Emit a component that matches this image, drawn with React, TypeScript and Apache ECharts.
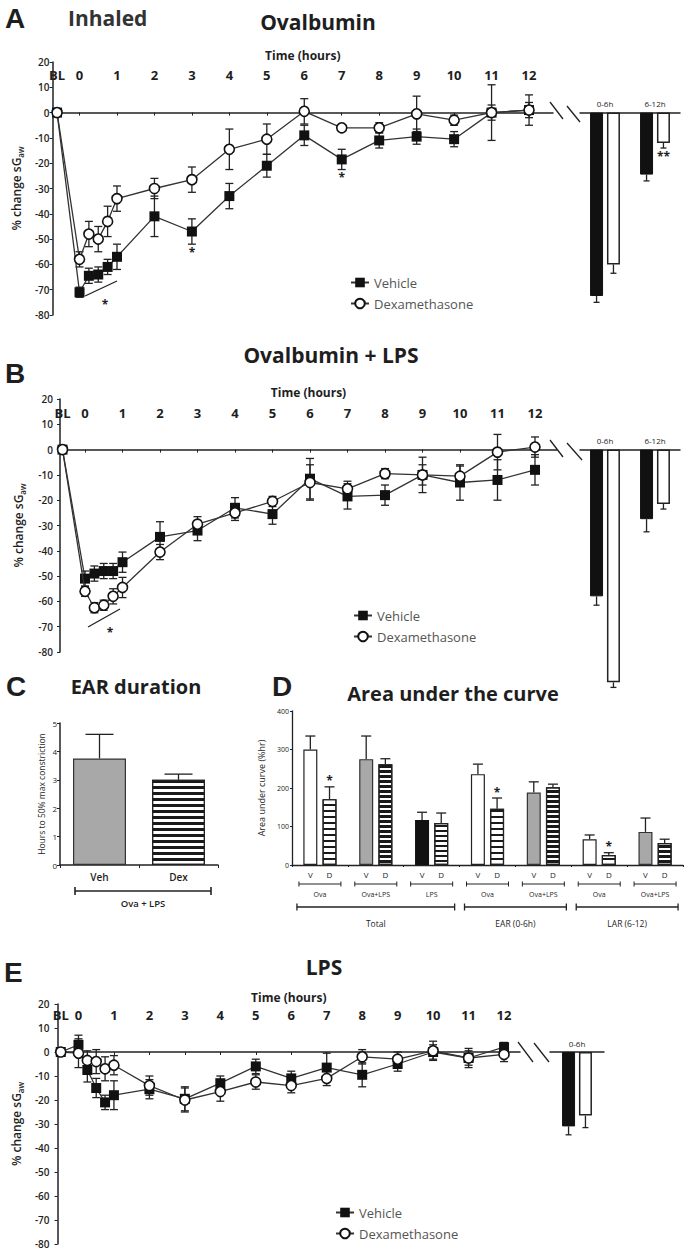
import React, { useEffect, useRef } from "react";
import * as echarts from "echarts";

// ---------------- shared labels ----------------
const HOUR_TICKS = [0, 1, 2, 3, 4, 5, 6, 7, 8, 9, 10, 11, 12];
const BL_LABEL = "BL";
const TIME_NAME = "Time (hours)";
const Y_NAME = "% change sG{sub|aw}";
const SERIES_NAMES = ["Vehicle", "Dexamethasone"];

// ---------------- Panel A : Ovalbumin ----------------
const A_TIME = [-0.6, 0, 0.25, 0.5, 0.75, 1, 2, 3, 4, 5, 6, 7, 8, 9, 10, 11, 12];
const A_VEH = [0, -71, -64.5, -64, -61, -57, -41, -47, -33, -21, -9, -18.5, -11, -9.5, -10.5, 0, 1];
const A_VEH_SEM = [0, 2, 3, 3, 3, 5, 8, 5, 5, 4.5, 4, 4, 3, 3, 3, 3, 6];
const A_VEH_SIG = ["", "", "", "", "", "", "", "*", "", "", "", "*", "", "", "", "", ""];
const A_DEX = [0, -58, -48, -50, -43, -34, -30, -26.5, -14.5, -10.5, 0.5, -6, -6, -0.5, -3, 0, 1];
const A_DEX_SEM = [0, 3, 5, 5, 6, 5, 4, 5, 8, 6, 5, 1, 2, 7, 2, 11, 3];
const A_BAR_CATS = ["0-6h", "6-12h"];
const A_BAR_VEH = [-72.5, -24.5];
const A_BAR_VEH_SEM = [2.5, 2.5];
const A_BAR_DEX = [-60, -12];
const A_BAR_DEX_SEM = [3.5, 2];
const A_BAR_DEX_SIG = ["", "**"];

// ---------------- Panel B : Ovalbumin + LPS ----------------
const B_TIME = [-0.6, 0, 0.25, 0.5, 0.75, 1, 2, 3, 4, 5, 6, 7, 8, 9, 10, 11, 12];
const B_VEH = [0, -51, -49, -48, -48, -44.5, -34.5, -32, -23, -25.5, -11.5, -18.5, -18, -10, -13, -12, -8];
const B_VEH_SEM = [0, 3, 3, 3, 3, 4, 6, 4, 4, 4, 8, 5, 4, 7, 7, 8, 6];
const B_DEX = [0, -56, -62.5, -61.5, -58, -54.5, -40.5, -29.5, -25, -20.5, -13, -15.5, -9.5, -10, -10.5, -1, 1];
const B_DEX_SEM = [0, 2, 2, 2, 3, 4, 3, 3, 3, 2, 7, 3, 2, 4, 4, 7, 4];
const B_BAR_CATS = ["0-6h", "6-12h"];
const B_BAR_VEH = [-58, -27.5];
const B_BAR_VEH_SEM = [3.5, 5];
const B_BAR_DEX = [-92, -21.5];
const B_BAR_DEX_SEM = [2, 2];

// ---------------- Panel C : EAR duration ----------------
const C_CATS = ["Veh", "Dex"];
const C_VALS = [3.75, 3.0];
const C_SEM = [0.85, 0.2];
const C_YNAME = "Hours to 50% max constriction";
const C_GROUP = "Ova + LPS";

// ---------------- Panel D : Area under the curve ----------------
const D_CATS = ["Ova", "Ova+LPS", "LPS", "Ova", "Ova+LPS", "Ova", "Ova+LPS"];
const D_V = [300, 275, 117, 236, 188, 67, 86];
const D_V_SEM = [35, 60, 20, 26, 28, 11, 36];
const D_D = [171, 262, 109, 146, 202, 26, 57];
const D_D_SEM = [32, 14, 26, 28, 8, 6, 10];
const D_D_SIG = ["*", "", "", "*", "", "*", ""];
const D_GROUPS = ["Total", "EAR (0-6h)", "LAR (6-12)"];
const D_GROUP_SPANS = [[0, 2], [3, 4], [5, 6]];
const D_BAR_LABELS = ["V", "D"];
const D_YNAME = "Area under curve (%hr)";

// ---------------- Panel E : LPS ----------------
const E_TIME = [-0.5, 0, 0.25, 0.5, 0.75, 1, 2, 3, 4, 5, 6, 7, 8, 9, 10, 11, 12];
const E_VEH = [0, 3, -7.5, -15, -21, -18, -15.5, -19.5, -13, -6, -11, -6.5, -9.5, -5, 0, -2.5, 2];
const E_VEH_SEM = [0, 4, 5, 4, 3, 6, 4, 5, 3, 3, 3, 6, 5, 3, 3, 3, 2];
const E_DEX = [0, -0.5, -3.5, -4, -7, -5.5, -14, -20, -16.5, -12.5, -14, -11, -2, -3, 0.5, -2.5, -1];
const E_DEX_SEM = [0, 6, 4, 5, 5, 4, 4, 5, 4, 3, 3, 3, 3, 3, 4, 4, 3];
const E_BAR_CATS = ["0-6h"];
const E_BAR_VEH = [-31];
const E_BAR_VEH_SEM = [3.5];
const E_BAR_DEX = [-26.5];
const E_BAR_DEX_SEM = [5];

// ---------------- styles ----------------
const FONT = '"Open Sans", "Liberation Sans", Arial, sans-serif';
const LETTER_FONT = '"Liberation Sans", Arial, sans-serif';
const TXT = "#1e1e1e";
const AX = "#222";

const stripe = (on: number, off: number) => ({
  symbol: "rect",
  symbolSize: 1,
  color: "#1a1a1a",
  dashArrayX: [1, 0],
  dashArrayY: [on, off],
  rotation: 0,
});
const V_STYLE: any = {
  Ova: { color: "#ffffff", borderColor: "#222", borderWidth: 1.2 },
  "Ova+LPS": { color: "#a8a8a8", borderColor: "#333", borderWidth: 1.2 },
  LPS: { color: "#111111", borderColor: "#111", borderWidth: 1.2 },
};
const D_STYLE: any = {
  Ova: { color: "#ffffff", borderColor: "#222", borderWidth: 1.2, decal: stripe(2, 4) },
  "Ova+LPS": { color: "#ffffff", borderColor: "#222", borderWidth: 1.2, decal: stripe(3, 2) },
  LPS: { color: "#ffffff", borderColor: "#222", borderWidth: 1.2, decal: stripe(2, 3) },
};
const C_STYLE: any = {
  Veh: { color: "#a8a8a8", borderColor: "#333", borderWidth: 1.2 },
  Dex: { color: "#ffffff", borderColor: "#222", borderWidth: 1.2, decal: stripe(3, 3) },
};

function buildOption() {
  const grids: any[] = [];
  const xAxes: any[] = [];
  const yAxes: any[] = [];
  const series: any[] = [];
  const legends: any[] = [];

  const errBars = (
    xi: number, yi: number, xs: number[], ms: number[], es: number[],
    offset: number, capW: number, mode: string, sig: string[] | null
  ) => ({
    type: "custom",
    xAxisIndex: xi,
    yAxisIndex: yi,
    silent: true,
    z: 2,
    clip: false,
    data: xs.map((x, i) => [x, ms[i], es[i], i]),
    encode: { x: 0, y: 1 },
    renderItem: (params: any, api: any) => {
      const x = api.value(0);
      const m = api.value(1);
      const e = api.value(2);
      const idx = api.value(3);
      const c = api.coord([x, m]);
      const cx = c[0] + offset;
      const children: any[] = [];
      const hi = api.coord([x, m + e])[1];
      const lo = api.coord([x, m - e])[1];
      let y1 = c[1];
      let y2 = c[1];
      if (e > 0) {
        if (mode === "both") { y1 = hi; y2 = lo; }
        else if (m >= 0) { y1 = hi; y2 = c[1]; }
        else { y1 = c[1]; y2 = lo; }
        children.push({ type: "line", shape: { x1: cx, y1, x2: cx, y2 }, style: { stroke: AX, lineWidth: 1.3 } });
        const caps = mode === "both" ? [y1, y2] : [m >= 0 ? y1 : y2];
        caps.forEach((yy) =>
          children.push({ type: "line", shape: { x1: cx - capW / 2, y1: yy, x2: cx + capW / 2, y2: yy }, style: { stroke: AX, lineWidth: 1.3 } })
        );
      }
      const s = sig ? sig[idx] : "";
      if (s) {
        const up = mode !== "both" && m >= 0;
        children.push({
          type: "text",
          x: cx,
          y: up ? y1 - 6 : y2 + 8,
          style: { text: s, fill: TXT, fontSize: 12, fontWeight: "bold", fontFamily: FONT, align: "center", verticalAlign: "middle" },
        });
      }
      return { type: "group", children };
    },
  });

  const linePanel = (p: any) => {
    const g = grids.length;
    grids.push({ left: p.left, top: p.top, width: p.width, height: p.height });
    const xl = xAxes.length;
    xAxes.push({
      gridIndex: g, type: "value", position: "top", min: p.tmin, max: p.tmax,
      axisLine: { show: false, onZero: false }, axisTick: { show: false }, splitLine: { show: false },
      axisLabel: {
        inside: true, margin: p.labelMargin, customValues: [p.blT, ...HOUR_TICKS],
        formatter: (v: number) => (v < 0 ? BL_LABEL : String(Math.round(v))),
        fontSize: 13, fontWeight: "bold", color: TXT, fontFamily: FONT,
      },
      name: TIME_NAME, nameLocation: "middle", nameGap: p.nameGap,
      nameTextStyle: { fontSize: 12, fontWeight: "bold", color: TXT, fontFamily: FONT, verticalAlign: "middle" },
    });
    xAxes.push({
      gridIndex: g, type: "value", position: "bottom", min: p.tmin, max: p.tmax,
      axisLine: { show: true, onZero: true, lineStyle: { color: AX, width: 1.5 } },
      axisTick: { show: true, customValues: HOUR_TICKS, length: 3, lineStyle: { color: AX } },
      axisLabel: { show: false }, splitLine: { show: false },
    });
    const yi = yAxes.length;
    yAxes.push({
      gridIndex: g, type: "value", min: -80, max: 20, interval: 10,
      axisLine: { show: true, onZero: false, lineStyle: { color: AX, width: 1.5 } },
      axisTick: { show: true, length: 3, lineStyle: { color: AX } },
      axisLabel: { fontSize: 10, fontWeight: 600, color: TXT, fontFamily: FONT, margin: p.yLabelMargin },
      splitLine: { show: false },
      name: Y_NAME, nameLocation: "middle", nameGap: p.yNameGap,
      nameTextStyle: {
        fontSize: 12, fontWeight: 600, color: TXT, fontFamily: FONT, lineHeight: 16,
        rich: { sub: { fontSize: 8, fontWeight: 600, color: TXT, fontFamily: FONT, verticalAlign: "bottom", lineHeight: 10 } },
      },
    });
    series.push(errBars(xl, yi, p.time, p.veh, p.vehSem, 0, 8, "both", p.vehSig));
    series.push(errBars(xl, yi, p.time, p.dex, p.dexSem, 0, 8, "both", null));
    series.push({
      type: "line", name: SERIES_NAMES[0], xAxisIndex: xl, yAxisIndex: yi, z: 3,
      data: p.time.map((t: number, i: number) => [t, p.veh[i]]),
      symbol: "rect", symbolSize: 10, itemStyle: { color: "#111" },
      lineStyle: { color: "#333", width: 1.3 },
    });
    series.push({
      type: "line", name: SERIES_NAMES[1], xAxisIndex: xl, yAxisIndex: yi, z: 4,
      data: p.time.map((t: number, i: number) => [t, p.dex[i]]),
      symbol: "circle", symbolSize: 10,
      itemStyle: { color: "#fff", borderColor: "#111", borderWidth: 1.6 },
      lineStyle: { color: "#333", width: 1.3 },
    });
    // summary bars: their own grid starting at the zero line, same px-per-unit scale
    const gb = grids.length;
    const pxPerUnit = p.height / 100;
    grids.push({ left: p.barLeft, top: p.top + 20 * pxPerUnit, width: p.barGridW, height: -p.barMin * pxPerUnit });
    const xb = xAxes.length;
    xAxes.push({
      gridIndex: gb, type: "category", position: "top", data: p.barCats,
      axisLine: { show: true, onZero: false, lineStyle: { color: AX, width: 1.5 } },
      axisTick: { show: false },
      axisLabel: { fontSize: 8, color: TXT, fontFamily: FONT, margin: 5 },
    });
    const yb = yAxes.length;
    yAxes.push({ gridIndex: gb, type: "value", show: false, min: p.barMin, max: 0 });
    const BW = 13;
    series.push({
      type: "bar", name: SERIES_NAMES[0], xAxisIndex: xb, yAxisIndex: yb, data: p.barVeh,
      barWidth: BW, barGap: "30%", itemStyle: { color: "#111", borderColor: "#111", borderWidth: 1 },
    });
    series.push({
      type: "bar", name: SERIES_NAMES[1], xAxisIndex: xb, yAxisIndex: yb, data: p.barDex,
      barWidth: BW, barGap: "30%", itemStyle: { color: "#fff", borderColor: "#222", borderWidth: 1.5 },
    });
    const off = (BW * 1.3) / 2;
    const idxs = p.barCats.map((_: string, i: number) => i);
    series.push(errBars(xb, yb, idxs, p.barVeh, p.barVehSem, -off, 6, "away", null));
    series.push(errBars(xb, yb, idxs, p.barDex, p.barDexSem, off, 6, "away", p.barDexSig || null));
    legends.push({
      left: p.legLeft, top: p.legTop, orient: "vertical", data: SERIES_NAMES,
      itemWidth: 18, itemHeight: 12, itemGap: 8, selectedMode: false,
      textStyle: { fontSize: 13, color: "#555", fontFamily: FONT },
    });
  };

  linePanel({
    left: 52, top: 62, width: 501, height: 253, tmin: -0.72, tmax: 12.64, blT: -0.6,
    labelMargin: 6, nameGap: 2, yLabelMargin: 3, yNameGap: 28,
    time: A_TIME, veh: A_VEH, vehSem: A_VEH_SEM, vehSig: A_VEH_SIG, dex: A_DEX, dexSem: A_DEX_SEM,
    barLeft: 580, barGridW: 100, barMin: -80, barCats: A_BAR_CATS,
    barVeh: A_BAR_VEH, barVehSem: A_BAR_VEH_SEM, barDex: A_BAR_DEX, barDexSem: A_BAR_DEX_SEM, barDexSig: A_BAR_DEX_SIG,
    legLeft: 345, legTop: 271,
  });
  linePanel({
    left: 60, top: 399, width: 497, height: 253, tmin: -0.667, tmax: 12.587, blT: -0.6,
    labelMargin: 7, nameGap: 4, yLabelMargin: 7, yNameGap: 34,
    time: B_TIME, veh: B_VEH, vehSem: B_VEH_SEM, vehSig: null, dex: B_DEX, dexSem: B_DEX_SEM,
    barLeft: 580, barGridW: 100, barMin: -100, barCats: B_BAR_CATS,
    barVeh: B_BAR_VEH, barVehSem: B_BAR_VEH_SEM, barDex: B_BAR_DEX, barDexSem: B_BAR_DEX_SEM,
    legLeft: 348, legTop: 604,
  });

  // ---- Panel C ----
  const gc = grids.length;
  grids.push({ left: 60, top: 723, width: 158, height: 142 });
  const xc = xAxes.length;
  xAxes.push({
    gridIndex: gc, type: "category", data: C_CATS,
    axisLine: { lineStyle: { color: AX, width: 1.5 } },
    axisTick: { show: true, length: 3, lineStyle: { color: AX } },
    axisLabel: { fontSize: 10, fontWeight: 600, color: TXT, fontFamily: FONT, margin: 7 },
  });
  const yc = yAxes.length;
  yAxes.push({
    gridIndex: gc, type: "value", min: 0, max: 5, interval: 1,
    axisLine: { show: true, lineStyle: { color: AX, width: 1.5 } },
    axisTick: { show: true, length: 3, lineStyle: { color: AX } },
    axisLabel: { fontSize: 8, color: TXT, fontFamily: FONT, margin: 3 },
    splitLine: { show: false },
    name: C_YNAME, nameLocation: "middle", nameGap: 14,
    nameTextStyle: { fontSize: 8.5, color: TXT, fontFamily: FONT },
  });
  series.push({
    type: "bar", xAxisIndex: xc, yAxisIndex: yc, barWidth: 53,
    data: C_VALS.map((v, i) => ({ value: v, itemStyle: C_STYLE[C_CATS[i]] })),
  });
  series.push(errBars(xc, yc, C_CATS.map((_, i) => i), C_VALS, C_SEM, 0, 28, "away", null));

  // ---- Panel D ----
  const D_GRID = { left: 292, top: 711, width: 391, height: 154 };
  const gd = grids.length;
  grids.push(D_GRID);
  const xd = xAxes.length;
  xAxes.push({
    gridIndex: gd, type: "category", data: D_CATS,
    axisLine: { lineStyle: { color: AX, width: 1.3 } },
    axisTick: { show: true, length: 2, lineStyle: { color: AX } },
    axisLabel: { fontSize: 7, color: TXT, fontFamily: FONT, margin: 26, interval: 0 },
  });
  const yd = yAxes.length;
  yAxes.push({
    gridIndex: gd, type: "value", min: 0, max: 400, interval: 100,
    axisLine: { show: true, lineStyle: { color: AX, width: 1.3 } },
    axisTick: { show: true, length: 2, lineStyle: { color: AX } },
    axisLabel: { fontSize: 7, color: TXT, fontFamily: FONT, margin: 3 },
    splitLine: { show: false },
    name: D_YNAME, nameLocation: "middle", nameGap: 22,
    nameTextStyle: { fontSize: 9, color: TXT, fontFamily: FONT },
  });
  const DBW = 14;
  series.push({
    type: "bar", xAxisIndex: xd, yAxisIndex: yd, barWidth: DBW, barGap: "37%",
    data: D_V.map((v, i) => ({ value: v, itemStyle: V_STYLE[D_CATS[i]] })),
    label: { show: true, position: "bottom", distance: 5, formatter: D_BAR_LABELS[0], fontSize: 8, color: TXT, fontFamily: FONT },
  });
  series.push({
    type: "bar", xAxisIndex: xd, yAxisIndex: yd, barWidth: DBW, barGap: "37%",
    data: D_D.map((v, i) => ({ value: v, itemStyle: D_STYLE[D_CATS[i]] })),
    label: { show: true, position: "bottom", distance: 5, formatter: D_BAR_LABELS[1], fontSize: 8, color: TXT, fontFamily: FONT },
  });
  const doff = (DBW * 1.37) / 2;
  const dIdx = D_CATS.map((_, i) => i);
  series.push(errBars(xd, yd, dIdx, D_V, D_V_SEM, -doff, 10, "away", null));
  series.push(errBars(xd, yd, dIdx, D_D, D_D_SEM, doff, 10, "away", D_D_SIG));

  // ---- Panel E ----
  linePanel({
    left: 57, top: 1004, width: 463, height: 240, tmin: -0.59, tmax: 12.45, blT: -0.5,
    labelMargin: 4, nameGap: 4, yLabelMargin: 8, yNameGap: 30,
    time: E_TIME, veh: E_VEH, vehSem: E_VEH_SEM, vehSig: null, dex: E_DEX, dexSem: E_DEX_SEM,
    barLeft: 550, barGridW: 54, barMin: -80, barCats: E_BAR_CATS,
    barVeh: E_BAR_VEH, barVehSem: E_BAR_VEH_SEM, barDex: E_BAR_DEX, barDexSem: E_BAR_DEX_SEM,
    legLeft: 330, legTop: 1201,
  });

  // ---- decorations ----
  const gfx: any[] = [];
  const txt = (text: string, x: number, y: number, font: string, align = "left", extra: any = {}) =>
    gfx.push({ type: "text", x, y, style: { text, font, fill: TXT, align, verticalAlign: "middle", ...extra } });
  const ln = (x1: number, y1: number, x2: number, y2: number, w = 1.3) =>
    gfx.push({ type: "line", shape: { x1, y1, x2, y2 }, style: { stroke: AX, lineWidth: w } });

  txt("A", 5, 18, `bold 28px ${LETTER_FONT}`);
  txt("Inhaled", 68, 18, `bold 21px ${FONT}`, "left", { fill: "#333" });
  txt("Ovalbumin", 318, 22, `bold 21px ${FONT}`, "center");
  txt("B", 5, 373, `bold 28px ${LETTER_FONT}`);
  txt("Ovalbumin + LPS", 331, 355, `bold 21px ${FONT}`, "center");
  txt("C", 6, 686, `bold 28px ${LETTER_FONT}`);
  txt("EAR duration", 136, 686, `bold 20px ${FONT}`, "center");
  txt("D", 272, 686, `bold 28px ${LETTER_FONT}`);
  txt("Area under the curve", 453, 693, `bold 20px ${FONT}`, "center");
  txt("E", 4, 972, `bold 28px ${LETTER_FONT}`);
  txt("LPS", 324, 967, `bold 21px ${FONT}`, "center");

  // axis breaks
  ln(550, 102, 563, 119); ln(567, 106, 580, 122);
  ln(550, 440, 563, 457); ln(567, 443, 582, 460);
  ln(518, 1042, 533, 1062); ln(534, 1043, 549, 1062);

  // early-time significance marks
  ln(85, 296, 117, 281);
  txt("*", 105, 304, `bold 12px ${FONT}`, "center");
  ln(88, 627, 120, 609);
  txt("*", 110, 632, `bold 12px ${FONT}`, "center");

  // C grouping bracket
  ln(75, 891, 211, 891, 1.6); ln(75, 887, 75, 895, 1.6); ln(211, 887, 211, 895, 1.6);
  txt(C_GROUP, 143, 903, `600 9.5px ${FONT}`, "center");

  // D brackets
  const dCat = (i: number) => D_GRID.left + ((i + 0.5) * D_GRID.width) / D_CATS.length;
  D_CATS.forEach((_, i) => {
    const c = dCat(i);
    ln(c - 21, 884, c + 21, 884, 1);
    ln(c - 21, 881.5, c - 21, 886.5, 1);
    ln(c + 21, 881.5, c + 21, 886.5, 1);
  });
  D_GROUP_SPANS.forEach(([s, e], gi) => {
    const a = dCat(s) - 23;
    const b = dCat(e) + 23;
    ln(a, 907, b, 907, 1.3);
    ln(a, 903.5, a, 910.5, 1.3);
    ln(b, 903.5, b, 910.5, 1.3);
    txt(D_GROUPS[gi], (a + b) / 2, 923, `8.5px ${FONT}`, "center");
  });

  return {
    animation: false,
    backgroundColor: "#fff",
    grid: grids,
    xAxis: xAxes,
    yAxis: yAxes,
    legend: legends,
    series,
    graphic: gfx,
  };
}

export default function App() {
  const ref = useRef<HTMLDivElement>(null);
  useEffect(() => {
    const chart = echarts.init(ref.current as HTMLDivElement, null, { renderer: "svg" });
    chart.setOption(buildOption() as any);
    return () => chart.dispose();
  }, []);
  return (
    <div
      ref={ref}
      style={{ position: "absolute", left: 0, top: 0, width: 690, height: 1254, background: "#fff" }}
    />
  );
}
